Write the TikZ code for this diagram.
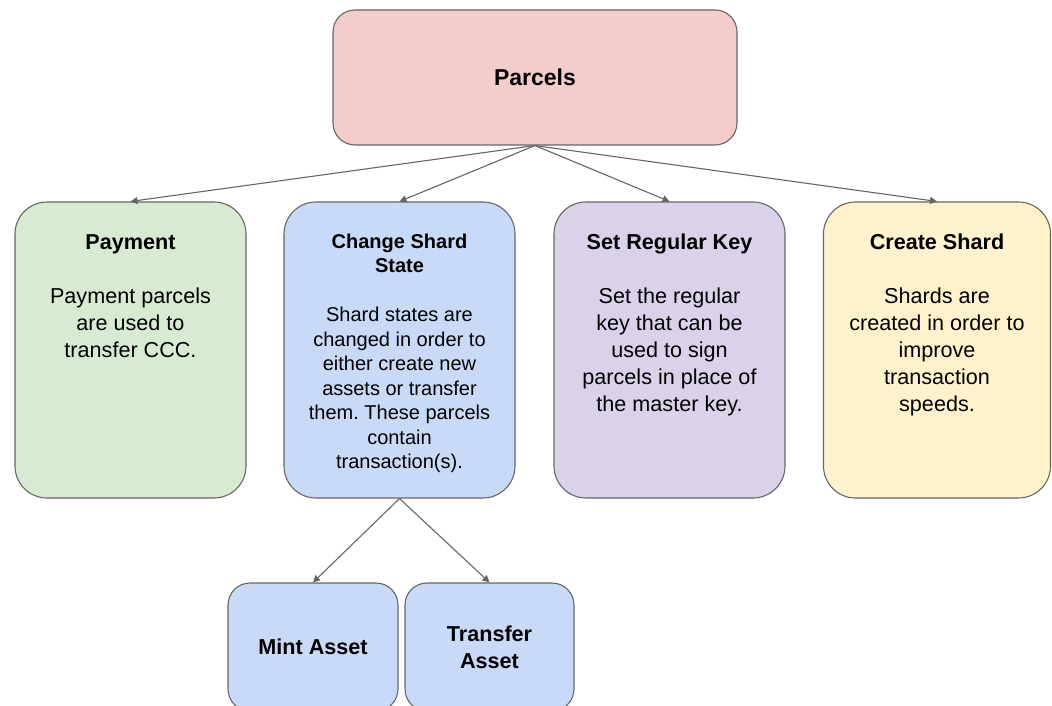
\documentclass[tikz,border=0pt]{standalone}
\usepackage{fontspec}
\setmainfont{Liberation Sans}
\usetikzlibrary{arrows.meta}
\frenchspacing

\definecolor{edgegray}{HTML}{666666}
\definecolor{boxred}{HTML}{F4CCCC}
\definecolor{boxgreen}{HTML}{D9EAD3}
\definecolor{boxblue}{HTML}{C9DAF8}
\definecolor{boxpurple}{HTML}{D9D2E9}
\definecolor{boxyellow}{HTML}{FFF2CC}

\begin{document}
\begin{tikzpicture}[x=1pt, y=-1pt, >={Triangle[length=7pt,width=7pt]},
    card/.style={draw=edgegray, line width=1.1pt, rounded corners=32pt,
        minimum width=231pt, minimum height=296pt, inner sep=0pt},
    leaf/.style={draw=edgegray, line width=1.1pt, rounded corners=22pt,
        fill=boxblue, minimum width=170pt, minimum height=128pt, align=center,
        font=\fontsize{21.6}{27}\selectfont\bfseries},
    cardtext/.style={anchor=north, inner sep=0pt, align=center,
        font=\fontsize{21.6}{27}\selectfont},
    link/.style={->, draw=edgegray, line width=1.1pt}]
    \clip (0,0) rectangle (1052,706);

    % root
    \node[draw=edgegray, line width=1.1pt, fill=boxred, rounded corners=22pt,
        minimum width=404pt, minimum height=135pt,
        font=\fontsize{23}{28}\selectfont\bfseries] (parcels) at (535,77.5) {Parcels};

    % the four parcel kinds
    \node[card, fill=boxgreen] (pay) at (130.5,350) {};
    \node[card, fill=boxblue] (css) at (399.5,350) {};
    \node[card, fill=boxpurple] (srk) at (669.5,350) {};
    \node[card, fill=boxyellow, minimum width=227pt] (cs) at (937,350) {};

    \node[cardtext] (pay-txt) at (130.5,230.1)
        {\strut\textbf{Payment}\\[27pt]Payment parcels\\are used to\\transfer CCC.};
    \node[cardtext, font=\fontsize{20}{24.5}\selectfont] (css-txt) at (399.5,230.9)
        {\strut\textbf{Change Shard}\\\textbf{State}\\[24.5pt]Shard states are\\changed in order to\\either create new\\assets or transfer\\them. These parcels\\contain\\transaction(s).};
    \node[cardtext] (srk-txt) at (669.5,230.1)
        {\strut\textbf{Set Regular Key}\\[27pt]Set the regular\\key that can be\\used to sign\\parcels in place of\\the master key.};
    \node[cardtext] (cs-txt) at (937,230.1)
        {\strut\textbf{Create Shard}\\[27pt]Shards are\\created in order to\\improve\\transaction\\speeds.};

    % transactions under change shard state
    \node[leaf] (mint) at (313,647) {Mint Asset};
    \node[leaf, minimum width=169pt] (xfer) at (489.5,647) {Transfer\\Asset};

    \foreach \kind in {pay,css,srk,cs}
        \draw[link] (parcels.south) -- (\kind.north);
    \draw[link] (css.south) -- (mint.north);
    \draw[link] (css.south) -- (xfer.north);
\end{tikzpicture}
\end{document}
